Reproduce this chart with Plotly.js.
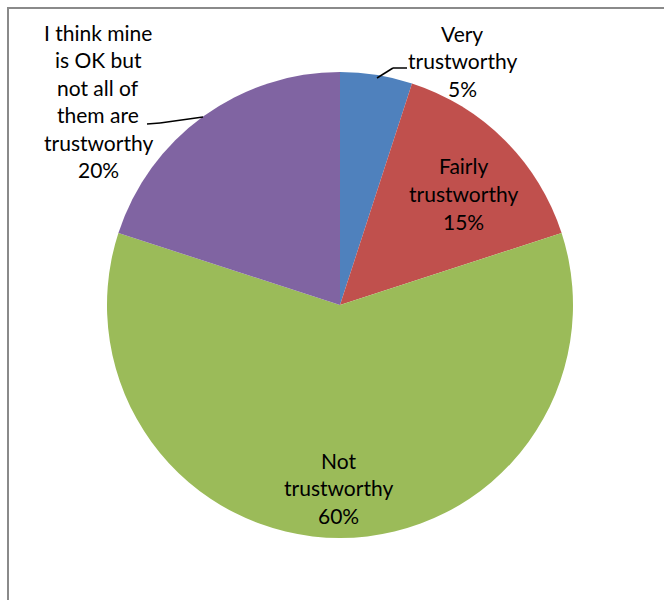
<!DOCTYPE html>
<html>
<head>
<meta charset="utf-8">
<script src="https://cdn.plot.ly/plotly-3.0.1.min.js"></script>
<style>
  html, body { margin: 0; padding: 0; background: #fff; }
  #chart { width: 664px; height: 600px; }
</style>
</head>
<body>
<div id="chart"></div>
<script>
// ---- data ----
const categories = [
  "Very trustworthy",
  "Fairly trustworthy",
  "Not trustworthy",
  "I think mine is OK but not all of them are trustworthy"
];
const values = [5, 15, 60, 20];
const labelLines = [
  ["Very", "trustworthy"],
  ["Fairly", "trustworthy"],
  ["Not", "trustworthy"],
  ["I think mine", "is OK but", "not all of", "them are", "trustworthy"]
];
const colors = ["#4F81BD", "#C0504D", "#9BBB59", "#8064A2"];

// ---- layout helpers (pixel -> paper with zero margins) ----
const W = 664, H = 600;
const px = x => x / W;
const py = y => 1 - y / H;

const cx = 340, cy = 305, R = 233;

// label anchor: center x and first-line center y
const labelPos = [
  {x: 462, y: 33},
  {x: 463, y: 166},
  {x: 338, y: 460},
  {x: 98,  y: 32}
];
const lineStep = 27.5;

const total = values.reduce((a, b) => a + b, 0);
const annotations = [];
categories.forEach((c, i) => {
  const lines = labelLines[i].concat([Math.round(values[i] / total * 100) + "%"]);
  lines.forEach((t, k) => {
    annotations.push({
      xref: "paper", yref: "paper",
      x: px(labelPos[i].x), y: py(labelPos[i].y + k * lineStep),
      xanchor: "center", yanchor: "middle",
      text: t, showarrow: false,
      font: {family: "Lato, 'Open Sans', sans-serif", size: 21, color: "#000"}
    });
  });
});

const seg = (x0, y0, x1, y1, color, w) => ({
  type: "line", xref: "paper", yref: "paper",
  x0: px(x0), y0: py(y0), x1: px(x1), y1: py(y1),
  line: {color: color, width: w}
});

const shapes = [
  // outer chart border (partly off-canvas)
  {type: "rect", xref: "paper", yref: "paper",
   x0: px(8), y0: py(8), x1: 1.05, y1: -0.05,
   line: {color: "#8a8a8a", width: 2}},
  // leader lines
  seg(377, 78, 393, 68, "#000", 1.5),
  seg(393, 68, 407, 68, "#000", 1.5),
  seg(147, 124, 160, 123, "#000", 1.5),
  seg(160, 123, 203, 117, "#000", 1.5)
];

const trace = {
  type: "pie",
  labels: categories,
  values: values,
  sort: false,
  direction: "clockwise",
  rotation: 0,
  marker: {colors: colors, line: {width: 0}},
  textinfo: "none",
  hoverinfo: "label+percent",
  showlegend: false,
  domain: {
    x: [px(cx - R), px(cx + R)],
    y: [py(cy + R), py(cy - R)]
  }
};

const layout = {
  width: W, height: H,
  margin: {l: 0, r: 0, t: 0, b: 0},
  paper_bgcolor: "#fff",
  showlegend: false,
  annotations: annotations,
  shapes: shapes
};

Plotly.newPlot("chart", [trace], layout, {displayModeBar: false, staticPlot: true});
</script>
</body>
</html>
